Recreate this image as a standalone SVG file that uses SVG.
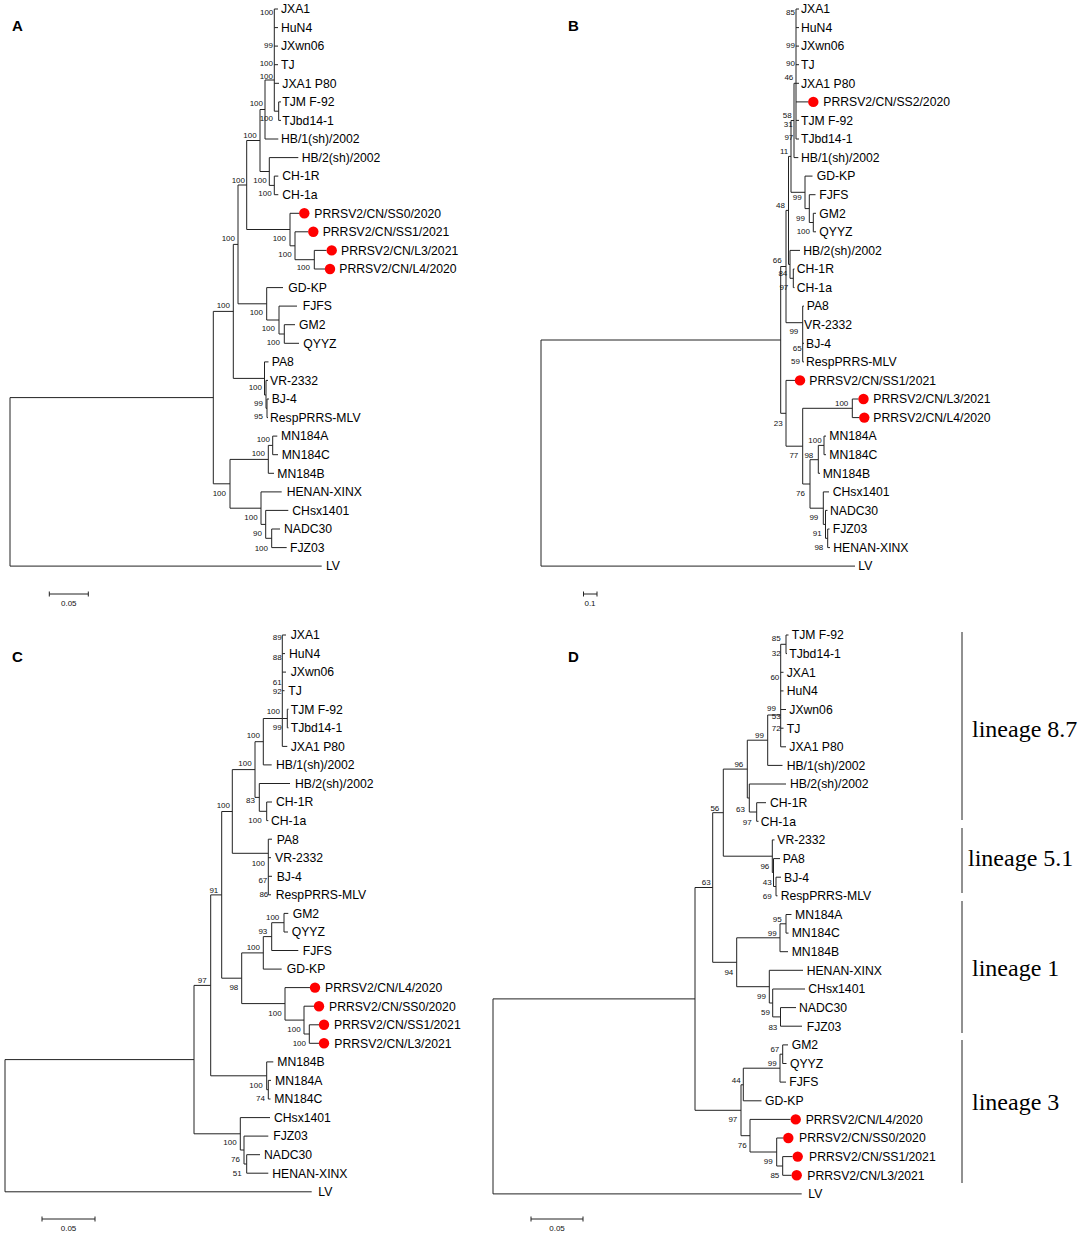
<svg xmlns="http://www.w3.org/2000/svg" width="1084" height="1238" viewBox="0 0 1084 1238">
<style>
.br{fill:none;stroke:#222;stroke-width:1}
.lf{font-family:"Liberation Sans",Arial,sans-serif;font-size:12.2px;fill:#000}
.bs{font-family:"Liberation Sans",Arial,sans-serif;font-size:8px;fill:#111;text-anchor:end}
.dot{fill:#ff0000}
.pl{font-family:"Liberation Sans",Arial,sans-serif;font-size:15px;font-weight:bold;fill:#000}
.sc{font-family:"Liberation Sans",Arial,sans-serif;font-size:8px;fill:#111;text-anchor:middle}
.lin{font-family:"Liberation Serif","Times New Roman",serif;font-size:24px;fill:#000}
</style>
<rect width="1084" height="1238" fill="#fff"/>

<!-- ================= PANEL A ================= -->
<g id="panelA">
<text class="pl" x="12" y="31">A</text>
<g id="connectorsA">
<path class="br" d="M274.3 9V111.2 M274.3 9H278 M274.3 27.6H278 M274.3 46.1H278 M274.3 64.7H278 M274.3 83.3H279
M274.3 111.2H278.7 M278.7 101.9V120.4 M278.7 101.9H281 M278.7 120.4H281
M265 80H274.3 M265 80V139 M265 139H278.3
M260 109.5H265 M260 109.5V171.5
M260 171.5H269.3 M269.3 157.6V185.4 M269.3 157.6H298.3 M269.3 185.4H274.3 M274.3 176.1V194.7 M274.3 176.1H278.3 M274.3 194.7H278.3
M246.7 140.5H260 M246.7 140.5V229.5
M246.7 229.5H290 M290 213.3V245.8 M290 213.3H299
M290 245.8H295 M295 231.8V259.7 M295 231.8H308
M295 259.7H314.3 M314.3 250.4V269 M314.3 250.4H326.5 M314.3 269H325
M238 185H246.7 M238 185V303.8
M238 303.8H266.7 M266.7 287.6V320 M266.7 287.6H283
M266.7 320H279 M279 306.1V334 M279 306.1H297
M279 334H284.3 M284.3 324.7V343.3 M284.3 324.7H295 M284.3 343.3H299
M233.3 244.4H238 M233.3 244.4V378.4
M233.3 378.4H264.5 M264.5 361.9V395 M264.5 361.9H268.5 M264.5 395H266 M266 380.4V408.3 M266 380.4H268 M266 408.3H267 M267 399V417.6 M267 399H269 M267 417.6H268
M213.3 311.4H233.3 M213.3 311.4V483.8
M10 397.6H213.3 M10 397.6V566.1 M10 566.1H321.7
M213.3 483.8H230 M230 459.4V508.2
M230 459.4H268.3 M268.3 445.4V473.3 M268.3 473.3H274 M268.3 445.4H272.7 M272.7 436.1V454.7 M272.7 436.1H277.3 M272.7 454.7H278
M230 508.2H261 M261 491.9V524.4 M261 491.9H281.7 M261 524.4H265.7 M265.7 510.4V538.3 M265.7 510.4H288.3 M265.7 538.3H271.7 M271.7 529V547.6 M271.7 529H280 M271.7 547.6H286.7"/>
</g>
<g id="bootA">
<text class="bs" x="273.3" y="14.9">100</text><text class="bs" x="273" y="47.9">99</text><text class="bs" x="273" y="66.2">100</text><text class="bs" x="273" y="78.9">100</text><text class="bs" x="273" y="121.2">100</text><text class="bs" x="263" y="105.9">100</text><text class="bs" x="256.7" y="137.9">100</text><text class="bs" x="266.7" y="182.9">100</text><text class="bs" x="271.7" y="196.2">100</text><text class="bs" x="245" y="182.9">100</text><text class="bs" x="286" y="241.2">100</text><text class="bs" x="291.7" y="257.2">100</text><text class="bs" x="310" y="269.6">100</text><text class="bs" x="235" y="241.2">100</text><text class="bs" x="230" y="307.9">100</text><text class="bs" x="263" y="314.9">100</text><text class="bs" x="275" y="331.2">100</text><text class="bs" x="280" y="344.6">100</text><text class="bs" x="262" y="389.6">100</text><text class="bs" x="263" y="405.9">99</text><text class="bs" x="263" y="418.6">95</text><text class="bs" x="270" y="442.2">100</text><text class="bs" x="265" y="456.2">100</text><text class="bs" x="226" y="495.6">100</text><text class="bs" x="257.7" y="520.2">100</text><text class="bs" x="262" y="536.2">90</text><text class="bs" x="268" y="550.6">100</text>
</g>
<g id="A1"><text class="lf" x="281" y="13.3">JXA1</text></g>
<g id="A2"><text class="lf" x="281" y="31.9">HuN4</text></g>
<g id="A3"><text class="lf" x="281" y="50.4">JXwn06</text></g>
<g id="A4"><text class="lf" x="281" y="69">TJ</text></g>
<g id="A5"><text class="lf" x="282.3" y="87.6">JXA1 P80</text></g>
<g id="A6"><text class="lf" x="282.3" y="106.2">TJM F-92</text></g>
<g id="A7"><text class="lf" x="282.3" y="124.7">TJbd14-1</text></g>
<g id="A8"><text class="lf" x="281" y="143.3">HB/1(sh)/2002</text></g>
<g id="A9"><text class="lf" x="301.7" y="161.9">HB/2(sh)/2002</text></g>
<g id="A10"><text class="lf" x="282.3" y="180.4">CH-1R</text></g>
<g id="A11"><text class="lf" x="282.3" y="199">CH-1a</text></g>
<g id="A12"><circle class="dot" cx="304.3" cy="213.3" r="5.2"/><text class="lf" x="314.3" y="217.6">PRRSV2/CN/SS0/2020</text></g>
<g id="A13"><circle class="dot" cx="313.3" cy="231.8" r="5.2"/><text class="lf" x="322.7" y="236.1">PRRSV2/CN/SS1/2021</text></g>
<g id="A14"><circle class="dot" cx="331.7" cy="250.4" r="5.2"/><text class="lf" x="341" y="254.7">PRRSV2/CN/L3/2021</text></g>
<g id="A15"><circle class="dot" cx="330" cy="269" r="5.2"/><text class="lf" x="339.3" y="273.3">PRRSV2/CN/L4/2020</text></g>
<g id="A16"><text class="lf" x="288.3" y="291.9">GD-KP</text></g>
<g id="A17"><text class="lf" x="302.7" y="310.4">FJFS</text></g>
<g id="A18"><text class="lf" x="299" y="329">GM2</text></g>
<g id="A19"><text class="lf" x="303.3" y="347.6">QYYZ</text></g>
<g id="A20"><text class="lf" x="271.7" y="366.2">PA8</text></g>
<g id="A21"><text class="lf" x="270" y="384.7">VR-2332</text></g>
<g id="A22"><text class="lf" x="271.7" y="403.3">BJ-4</text></g>
<g id="A23"><text class="lf" x="270" y="421.9">RespPRRS-MLV</text></g>
<g id="A24"><text class="lf" x="281" y="440.4">MN184A</text></g>
<g id="A25"><text class="lf" x="281.7" y="459">MN184C</text></g>
<g id="A26"><text class="lf" x="277.3" y="477.6">MN184B</text></g>
<g id="A27"><text class="lf" x="286.7" y="496.2">HENAN-XINX</text></g>
<g id="A28"><text class="lf" x="292.3" y="514.7">CHsx1401</text></g>
<g id="A29"><text class="lf" x="284" y="533.3">NADC30</text></g>
<g id="A30"><text class="lf" x="290" y="551.9">FJZ03</text></g>
<g id="A31"><text class="lf" x="326" y="570.4">LV</text></g>
<g id="scaleA"><path class="br" d="M49.3 594H88.3 M49.3 591.5V596.5 M88.3 591.5V596.5"/><text class="sc" x="68.8" y="606">0.05</text></g>
</g>

<!-- ================= PANEL B ================= -->
<g id="panelB">
<text class="pl" x="568" y="31">B</text>
<g id="connectorsB">
<path class="br" d="M796 9V139 M796 9H799 M796 27.6H799 M796 46.1H799 M796 64.7H799 M796 83.3H799 M796 101.9H808.5 M796 120.4H799 M796 139H799
M794 83.3V157.6 M794 83.3H796 M794 157.6H798.3
M791 120.5H794 M791 120.5V192.3
M791 192.3H805 M805 176.1V208.6 M805 176.1H812.5 M805 208.6H809.3 M809.3 194.7V222.5 M809.3 194.7H815.5 M809.3 222.5H813.3 M813.3 213.3V231.8 M813.3 213.3H816 M813.3 231.8H816
M788.5 156.4H791 M788.5 156.4V264.4
M788.5 264.4H790 M790 250.4V278.3 M790 250.4H800 M790 278.3H793.3 M793.3 269V287.6 M793.3 269H794.5 M793.3 287.6H794.5
M786 210.4H788.5 M786 210.4V322.7
M786 322.7H802.7 M802.7 306.1V361.9 M802.7 306.1H804 M802.7 324.7H803 M802.7 343.3H804 M802.7 361.9H804
M780.7 266.5H786 M780.7 266.5V413.3
M541 340H780.7 M541 340V566.1 M541 566.1H855
M780.7 413.3H786 M786 380.4V446.2 M786 380.4H795
M786 446.2H802.7 M802.7 408.3V484
M802.7 408.3H852.3 M852.3 399V417.6 M852.3 399H858.5 M852.3 417.6H859.3
M802.7 484H810 M810 459.7V508.2
M810 459.7H818.3 M818.3 445.4V473.3 M818.3 473.3H820 M818.3 445.4H824 M824 436.1V454.7 M824 436.1H826 M824 454.7H826
M810 508.2H823.3 M823.3 491.9V524.4 M823.3 491.9H829 M823.3 524.4H825.5 M825.5 510.4V538.3 M825.5 510.4H827.5 M825.5 538.3H827.7 M827.7 529V547.6 M827.7 529H829.5 M827.7 547.6H830"/>
</g>
<g id="bootB">
<text class="bs" x="795" y="14.6">85</text><text class="bs" x="795" y="47.9">99</text><text class="bs" x="795" y="66.2">90</text><text class="bs" x="793.3" y="80.2">46</text><text class="bs" x="791.7" y="117.9">58</text><text class="bs" x="792.7" y="126.9">31</text><text class="bs" x="793.3" y="139.6">97</text><text class="bs" x="788.3" y="153.6">11</text><text class="bs" x="801.7" y="200.4">99</text><text class="bs" x="785" y="207.9">48</text><text class="bs" x="805" y="220.6">99</text><text class="bs" x="810" y="233.9">100</text><text class="bs" x="781.7" y="262.9">66</text><text class="bs" x="787.3" y="275.6">84</text><text class="bs" x="788.3" y="289.6">97</text><text class="bs" x="798.3" y="333.9">99</text><text class="bs" x="801.7" y="350.6">65</text><text class="bs" x="800" y="363.6">59</text><text class="bs" x="848.3" y="406.2">100</text><text class="bs" x="782.7" y="425.6">23</text><text class="bs" x="798.3" y="457.9">77</text><text class="bs" x="813.3" y="457.9">98</text><text class="bs" x="821.7" y="442.9">100</text><text class="bs" x="805" y="496.2">76</text><text class="bs" x="818.3" y="520.2">99</text><text class="bs" x="821.7" y="536.2">91</text><text class="bs" x="823.3" y="549.6">98</text>
</g>
<g id="B1"><text class="lf" x="801" y="13.3">JXA1</text></g>
<g id="B2"><text class="lf" x="801" y="31.9">HuN4</text></g>
<g id="B3"><text class="lf" x="801" y="50.4">JXwn06</text></g>
<g id="B4"><text class="lf" x="801" y="69">TJ</text></g>
<g id="B5"><text class="lf" x="801" y="87.6">JXA1 P80</text></g>
<g id="B6"><circle class="dot" cx="813.3" cy="101.9" r="5.2"/><text class="lf" x="823.3" y="106.2">PRRSV2/CN/SS2/2020</text></g>
<g id="B7"><text class="lf" x="801" y="124.7">TJM F-92</text></g>
<g id="B8"><text class="lf" x="801" y="143.3">TJbd14-1</text></g>
<g id="B9"><text class="lf" x="801" y="161.9">HB/1(sh)/2002</text></g>
<g id="B10"><text class="lf" x="816.7" y="180.4">GD-KP</text></g>
<g id="B11"><text class="lf" x="819.3" y="199">FJFS</text></g>
<g id="B12"><text class="lf" x="819.3" y="217.6">GM2</text></g>
<g id="B13"><text class="lf" x="819.3" y="236.1">QYYZ</text></g>
<g id="B14"><text class="lf" x="803.3" y="254.7">HB/2(sh)/2002</text></g>
<g id="B15"><text class="lf" x="796.7" y="273.3">CH-1R</text></g>
<g id="B16"><text class="lf" x="796.7" y="291.9">CH-1a</text></g>
<g id="B17"><text class="lf" x="806.7" y="310.4">PA8</text></g>
<g id="B18"><text class="lf" x="804" y="329">VR-2332</text></g>
<g id="B19"><text class="lf" x="806" y="347.6">BJ-4</text></g>
<g id="B20"><text class="lf" x="806" y="366.2">RespPRRS-MLV</text></g>
<g id="B21"><circle class="dot" cx="800" cy="380.4" r="5.2"/><text class="lf" x="809.3" y="384.7">PRRSV2/CN/SS1/2021</text></g>
<g id="B22"><circle class="dot" cx="863.5" cy="399" r="5.2"/><text class="lf" x="873.3" y="403.3">PRRSV2/CN/L3/2021</text></g>
<g id="B23"><circle class="dot" cx="864.3" cy="417.6" r="5.2"/><text class="lf" x="873.3" y="421.9">PRRSV2/CN/L4/2020</text></g>
<g id="B24"><text class="lf" x="829.3" y="440.4">MN184A</text></g>
<g id="B25"><text class="lf" x="829.3" y="459">MN184C</text></g>
<g id="B26"><text class="lf" x="822.7" y="477.6">MN184B</text></g>
<g id="B27"><text class="lf" x="832.7" y="496.2">CHsx1401</text></g>
<g id="B28"><text class="lf" x="830" y="514.7">NADC30</text></g>
<g id="B29"><text class="lf" x="832.7" y="533.3">FJZ03</text></g>
<g id="B30"><text class="lf" x="833.3" y="551.9">HENAN-XINX</text></g>
<g id="B31"><text class="lf" x="858.3" y="570.4">LV</text></g>
<g id="scaleB"><path class="br" d="M583.5 594H597 M583.5 591.5V596.5 M597 591.5V596.5"/><text class="sc" x="590" y="606">0.1</text></g>
</g>

<!-- ================= PANEL C ================= -->
<g id="panelC">
<text class="pl" x="12" y="662">C</text>
<g id="connectorsC">
<path class="br" d="M282.3 635V746.4 M282.3 635H286 M282.3 653.6H285 M282.3 672.1H286 M282.3 690.7H284.5 M282.3 746.4H287.3
M282.3 718.5H287.3 M287.3 709.2V727.8 M287.3 709.2H288.5 M287.3 727.8H288.5
M263.3 718.5H282.3 M263.3 718.5V764.9 M263.3 764.9H271.7
M255 741.7H263.3 M255 741.7V797.4
M255 797.4H259.3 M259.3 783.5V811.3 M259.3 783.5H290 M259.3 811.3H266.7 M266.7 802V820.6 M266.7 802H272 M266.7 820.6H268.3
M232.3 769.6H255 M232.3 769.6V853.3
M232.3 853.3H268.3 M268.3 839.2V894.8 M268.3 839.2H272 M268.3 857.7H271 M268.3 876.3H272 M268.3 894.8H271
M221.7 811.5H232.3 M221.7 811.5V978.2
M221.7 978.2H241.7 M241.7 952.9V1003.6
M241.7 952.9H263.3 M263.3 936.6V969.1 M263.3 969.1H281.7
M263.3 936.6H271.7 M271.7 922.7V950.5 M271.7 950.5H298.3
M271.7 922.7H284 M284 913.4V932 M284 913.4H288.3 M284 932H288
M241.7 1003.6H285 M285 987.6V1020.1 M285 987.6H310
M285 1020.1H304 M304 1006.2V1034 M304 1006.2H314
M304 1034H309.3 M309.3 1024.8V1043.3 M309.3 1024.8H319 M309.3 1043.3H319
M210.7 894.9H221.7 M210.7 894.9V1075.8
M210.7 1075.8H266.7 M266.7 1061.9V1089.7 M266.7 1061.9H273.3 M266.7 1089.7H268.3 M268.3 1080.4V1099 M268.3 1080.4H271 M268.3 1099H270.5
M194 985.4H210.7 M194 985.4V1133.8
M5 1059.6H194 M5 1059.6V1191.8 M5 1191.8H311.7
M194 1133.8H240.3 M240.3 1117.6V1150 M240.3 1117.6H270 M240.3 1150H244 M244 1136.1V1164 M244 1136.1H268.3 M244 1164H246.7 M246.7 1154.7V1173.2 M246.7 1154.7H260 M246.7 1173.2H268.3"/>
</g>
<g id="bootC">
<text class="bs" x="281.7" y="639.6">89</text><text class="bs" x="281.7" y="659.6">88</text><text class="bs" x="281.7" y="685.2">61</text><text class="bs" x="281.7" y="693.6">92</text><text class="bs" x="280" y="713.6">100</text><text class="bs" x="281.7" y="729.6">99</text><text class="bs" x="260" y="737.9">100</text><text class="bs" x="251.7" y="766.2">100</text><text class="bs" x="230" y="807.9">100</text><text class="bs" x="255" y="802.9">83</text><text class="bs" x="261.7" y="822.9">100</text><text class="bs" x="265" y="866.2">100</text><text class="bs" x="267.3" y="882.9">67</text><text class="bs" x="268.3" y="896.9">86</text><text class="bs" x="218.3" y="892.9">91</text><text class="bs" x="279.3" y="919.6">100</text><text class="bs" x="267.3" y="933.6">93</text><text class="bs" x="260" y="949.6">100</text><text class="bs" x="238.3" y="989.6">98</text><text class="bs" x="206.7" y="982.9">97</text><text class="bs" x="281.7" y="1015.6">100</text><text class="bs" x="300.7" y="1032.2">100</text><text class="bs" x="306" y="1046.2">100</text><text class="bs" x="262.7" y="1087.9">100</text><text class="bs" x="265" y="1101.2">74</text><text class="bs" x="236.7" y="1144.6">100</text><text class="bs" x="240" y="1162.2">76</text><text class="bs" x="241.7" y="1176.2">51</text>
</g>
<g id="C1"><text class="lf" x="290.7" y="639.3">JXA1</text></g>
<g id="C2"><text class="lf" x="289" y="657.9">HuN4</text></g>
<g id="C3"><text class="lf" x="290.7" y="676.4">JXwn06</text></g>
<g id="C4"><text class="lf" x="288.3" y="695">TJ</text></g>
<g id="C5"><text class="lf" x="290.7" y="713.5">TJM F-92</text></g>
<g id="C6"><text class="lf" x="290.7" y="732.1">TJbd14-1</text></g>
<g id="C7"><text class="lf" x="290.7" y="750.7">JXA1 P80</text></g>
<g id="C8"><text class="lf" x="276" y="769.2">HB/1(sh)/2002</text></g>
<g id="C9"><text class="lf" x="295" y="787.8">HB/2(sh)/2002</text></g>
<g id="C10"><text class="lf" x="276" y="806.3">CH-1R</text></g>
<g id="C11"><text class="lf" x="271" y="824.9">CH-1a</text></g>
<g id="C12"><text class="lf" x="276.7" y="843.5">PA8</text></g>
<g id="C13"><text class="lf" x="275" y="862">VR-2332</text></g>
<g id="C14"><text class="lf" x="276.7" y="880.6">BJ-4</text></g>
<g id="C15"><text class="lf" x="275.7" y="899.1">RespPRRS-MLV</text></g>
<g id="C16"><text class="lf" x="292.7" y="917.7">GM2</text></g>
<g id="C17"><text class="lf" x="291.7" y="936.3">QYYZ</text></g>
<g id="C18"><text class="lf" x="302.7" y="954.8">FJFS</text></g>
<g id="C19"><text class="lf" x="286.7" y="973.4">GD-KP</text></g>
<g id="C20"><circle class="dot" cx="315" cy="987.6" r="5.2"/><text class="lf" x="325" y="991.9">PRRSV2/CN/L4/2020</text></g>
<g id="C21"><circle class="dot" cx="319" cy="1006.2" r="5.2"/><text class="lf" x="329" y="1010.5">PRRSV2/CN/SS0/2020</text></g>
<g id="C22"><circle class="dot" cx="324" cy="1024.8" r="5.2"/><text class="lf" x="334" y="1029.1">PRRSV2/CN/SS1/2021</text></g>
<g id="C23"><circle class="dot" cx="324" cy="1043.3" r="5.2"/><text class="lf" x="334.3" y="1047.6">PRRSV2/CN/L3/2021</text></g>
<g id="C24"><text class="lf" x="277.3" y="1066.2">MN184B</text></g>
<g id="C25"><text class="lf" x="275" y="1084.7">MN184A</text></g>
<g id="C26"><text class="lf" x="274.3" y="1103.3">MN184C</text></g>
<g id="C27"><text class="lf" x="274" y="1121.9">CHsx1401</text></g>
<g id="C28"><text class="lf" x="273.3" y="1140.4">FJZ03</text></g>
<g id="C29"><text class="lf" x="264" y="1159">NADC30</text></g>
<g id="C30"><text class="lf" x="272.3" y="1177.5">HENAN-XINX</text></g>
<g id="C31"><text class="lf" x="318.3" y="1196.1">LV</text></g>
<g id="scaleC"><path class="br" d="M42 1219H95 M42 1216.5V1221.5 M95 1216.5V1221.5"/><text class="sc" x="68.5" y="1231">0.05</text></g>
</g>

<!-- ================= PANEL D ================= -->
<g id="panelD">
<text class="pl" x="568" y="662">D</text>
<g id="connectorsD">
<path class="br" d="M780.7 644.3V746.8 M780.7 644.3H786 M786 635V653.6 M786 635H788.5 M786 653.6H787
M780.7 672.3H783.5 M780.7 690.9H783.5 M780.7 709.5H786 M780.7 728.2H783.5 M780.7 746.8H786
M767.7 715H780.7 M767.7 715V765.4 M767.7 765.4H782.5
M747.3 740.2H767.7 M747.3 740.2V798
M747.3 798H749.3 M749.3 784V812 M749.3 784H786 M749.3 812H756.7 M756.7 802.7V821.3 M756.7 802.7H766 M756.7 821.3H758.5
M723.3 769.1H747.3 M723.3 769.1V856.2
M723.3 856.2H772.3 M772.3 839.9V872.5 M772.3 839.9H774.5 M772.3 872.5H773.5 M773.5 858.6V886.5 M773.5 858.6H780 M773.5 886.5H776 M776 877.2V895.8 M776 877.2H781 M776 895.8H777.5
M712.7 812.7H723.3 M712.7 812.7V962.3
M712.7 962.3H736.7 M736.7 937.8V986.7
M736.7 937.8H780 M780 923.8V951.7 M780 951.7H788 M780 923.8H786 M786 914.5V933.1 M786 914.5H791.5 M786 933.1H788.5
M736.7 986.7H769.3 M769.3 970.3V1003 M769.3 970.3H803 M769.3 1003H772.7 M772.7 989V1016.9 M772.7 989H805 M772.7 1016.9H780.5 M780.5 1007.6V1026.2 M780.5 1007.6H796 M780.5 1026.2H802
M695 887.5H712.7 M695 887.5V1110.3
M493 998.9H695 M493 998.9V1193.9 M493 1193.9H801.7
M695 1110.3H741 M741 1084.8V1135.7
M741 1084.8H743.3 M743.3 1068.2V1100.8 M743.3 1100.8H761.5 M743.3 1068.2H780 M780 1054.2V1082.1 M780 1082.1H786 M780 1054.2H782.7 M782.7 1044.9V1063.5 M782.7 1044.9H788 M782.7 1063.5H786.5
M741 1135.7H750 M750 1119.4V1152 M750 1119.4H790.5
M750 1152H776.7 M776.7 1138V1166 M776.7 1138H783.5
M776.7 1166H782.7 M782.7 1156.6V1175.3 M782.7 1156.6H792.5 M782.7 1175.3H791.5"/>
<path class="br" d="M962 632V820 M962 828V893 M962 901V1033 M962 1040V1183"/>
</g>
<g id="bootD">
<text class="bs" x="780.7" y="641.2">85</text><text class="bs" x="780.7" y="655.6">32</text><text class="bs" x="779.3" y="679.6">60</text><text class="bs" x="776" y="710.8">99</text><text class="bs" x="780.7" y="719.2">53</text><text class="bs" x="780.7" y="731.2">72</text><text class="bs" x="764" y="737.9">99</text><text class="bs" x="743.3" y="766.9">96</text><text class="bs" x="745" y="812.2">63</text><text class="bs" x="751.7" y="824.6">97</text><text class="bs" x="719.3" y="811.2">56</text><text class="bs" x="769.3" y="868.9">96</text><text class="bs" x="771.7" y="884.6">43</text><text class="bs" x="771.7" y="898.9">69</text><text class="bs" x="710.7" y="884.6">63</text><text class="bs" x="781.7" y="922.2">95</text><text class="bs" x="776.7" y="935.6">99</text><text class="bs" x="733.3" y="974.6">94</text><text class="bs" x="766" y="998.9">99</text><text class="bs" x="770" y="1014.6">59</text><text class="bs" x="777.3" y="1029.6">83</text><text class="bs" x="779.3" y="1052.2">67</text><text class="bs" x="776.7" y="1066.2">99</text><text class="bs" x="740.7" y="1082.9">44</text><text class="bs" x="737.3" y="1122.2">97</text><text class="bs" x="746.7" y="1147.9">76</text><text class="bs" x="772.7" y="1163.6">99</text><text class="bs" x="779.3" y="1177.9">85</text>
</g>
<g id="D1"><text class="lf" x="791.7" y="639.3">TJM F-92</text></g>
<g id="D2"><text class="lf" x="789.3" y="657.9">TJbd14-1</text></g>
<g id="D3"><text class="lf" x="786.7" y="676.6">JXA1</text></g>
<g id="D4"><text class="lf" x="786.7" y="695.2">HuN4</text></g>
<g id="D5"><text class="lf" x="789.3" y="713.8">JXwn06</text></g>
<g id="D6"><text class="lf" x="786.7" y="732.5">TJ</text></g>
<g id="D7"><text class="lf" x="789.3" y="751.1">JXA1 P80</text></g>
<g id="D8"><text class="lf" x="786.7" y="769.7">HB/1(sh)/2002</text></g>
<g id="D9"><text class="lf" x="790" y="788.3">HB/2(sh)/2002</text></g>
<g id="D10"><text class="lf" x="770" y="807">CH-1R</text></g>
<g id="D11"><text class="lf" x="760.7" y="825.6">CH-1a</text></g>
<g id="D12"><text class="lf" x="777.3" y="844.2">VR-2332</text></g>
<g id="D13"><text class="lf" x="782.7" y="862.9">PA8</text></g>
<g id="D14"><text class="lf" x="784" y="881.5">BJ-4</text></g>
<g id="D15"><text class="lf" x="780.7" y="900.1">RespPRRS-MLV</text></g>
<g id="D16"><text class="lf" x="795" y="918.8">MN184A</text></g>
<g id="D17"><text class="lf" x="791.7" y="937.4">MN184C</text></g>
<g id="D18"><text class="lf" x="791.7" y="956">MN184B</text></g>
<g id="D19"><text class="lf" x="806.7" y="974.6">HENAN-XINX</text></g>
<g id="D20"><text class="lf" x="808.3" y="993.3">CHsx1401</text></g>
<g id="D21"><text class="lf" x="799" y="1011.9">NADC30</text></g>
<g id="D22"><text class="lf" x="806.7" y="1030.5">FJZ03</text></g>
<g id="D23"><text class="lf" x="791.7" y="1049.2">GM2</text></g>
<g id="D24"><text class="lf" x="790" y="1067.8">QYYZ</text></g>
<g id="D25"><text class="lf" x="789.3" y="1086.4">FJFS</text></g>
<g id="D26"><text class="lf" x="765" y="1105.1">GD-KP</text></g>
<g id="D27"><circle class="dot" cx="795.7" cy="1119.4" r="5.2"/><text class="lf" x="805.7" y="1123.7">PRRSV2/CN/L4/2020</text></g>
<g id="D28"><circle class="dot" cx="788.3" cy="1138" r="5.2"/><text class="lf" x="799" y="1142.3">PRRSV2/CN/SS0/2020</text></g>
<g id="D29"><circle class="dot" cx="797.7" cy="1156.6" r="5.2"/><text class="lf" x="809" y="1160.9">PRRSV2/CN/SS1/2021</text></g>
<g id="D30"><circle class="dot" cx="796.7" cy="1175.3" r="5.2"/><text class="lf" x="807.3" y="1179.6">PRRSV2/CN/L3/2021</text></g>
<g id="D31"><text class="lf" x="808.3" y="1198.2">LV</text></g>
<g id="lineages">
<text class="lin" x="972" y="737">lineage 8.7</text>
<text class="lin" x="968" y="866">lineage 5.1</text>
<text class="lin" x="972" y="976">lineage 1</text>
<text class="lin" x="972" y="1110">lineage 3</text>
</g>
<g id="scaleD"><path class="br" d="M531 1219H583 M531 1216.5V1221.5 M583 1216.5V1221.5"/><text class="sc" x="557" y="1231">0.05</text></g>
</g>
</svg>
